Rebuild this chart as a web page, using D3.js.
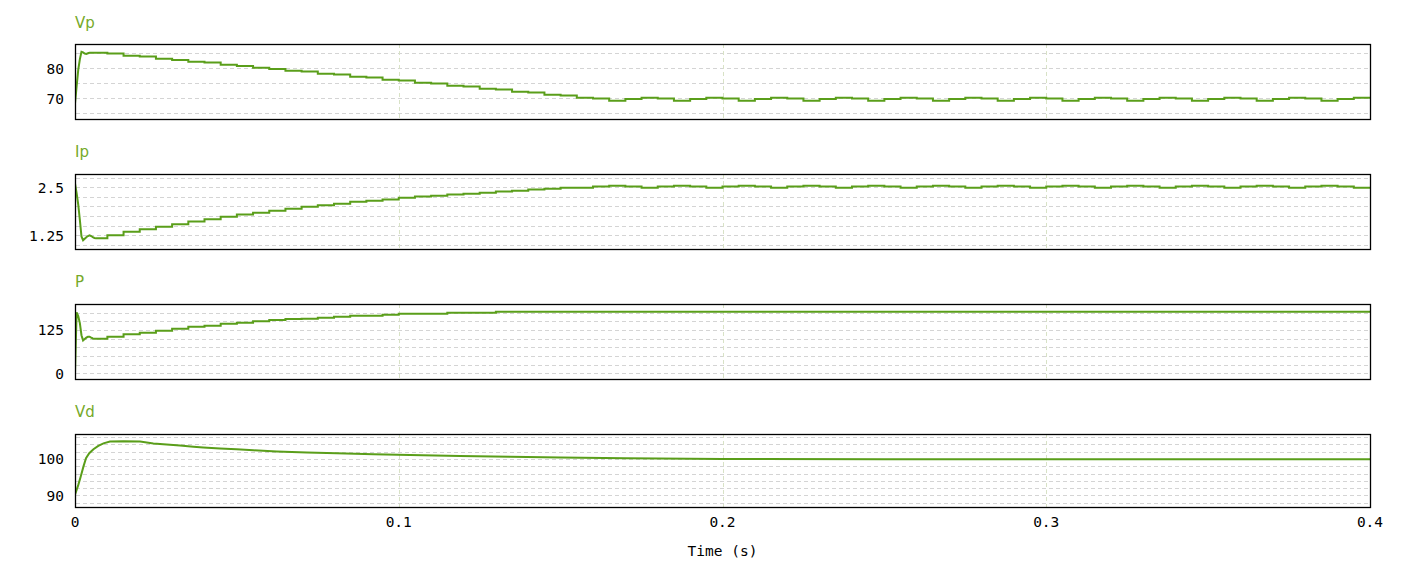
<!DOCTYPE html>
<html>
<head>
<meta charset="utf-8">
<script src="https://cdn.jsdelivr.net/npm/d3@7"></script>
<style>
  html, body { margin: 0; padding: 0; background: #fff; }
  svg { display: block; }
</style>
</head>
<body>
<svg id="chart" width="1413" height="573"></svg>
<script>
// ---------------- DATA ----------------
const panelTitles = ["Vp", "Ip", "P", "Vd"];
const xTickValues = [0, 0.1, 0.2, 0.3, 0.4];
const xTickLabels = ["0", "0.1", "0.2", "0.3", "0.4"];
const xAxisTitle = "Time (s)";

const vpTickValues = [70, 80];
const vpTickLabels = ["70", "80"];
const ipTickValues = [1.25, 2.5];
const ipTickLabels = ["1.25", "2.5"];
const pTickValues = [0, 125];
const pTickLabels = ["0", "125"];
const vdTickValues = [90, 100];
const vdTickLabels = ["90", "100"];

// start-up transient samples (s)
const tTransient = [0, 0.0005, 0.001, 0.0015, 0.002, 0.0025, 0.003, 0.0035, 0.004, 0.0045,
                    0.005, 0.0055, 0.006, 0.0065, 0.007, 0.0075, 0.008, 0.0085, 0.009, 0.0095];
const vpTransient = [68.3, 74.0, 79.5, 83.0, 85.5, 85.3, 84.9, 84.8, 85.0, 85.2,
                     85.2, 85.2, 85.2, 85.2, 85.2, 85.2, 85.2, 85.2, 85.2, 85.2];
const ipTransient = [2.60, 2.35, 2.05, 1.65, 1.22, 1.12, 1.16, 1.20, 1.23, 1.25,
                     1.23, 1.20, 1.18, 1.17, 1.17, 1.17, 1.17, 1.17, 1.17, 1.17];
const pTransient  = [0, 176, 165, 145, 110, 95, 99, 103, 105.5, 105.7,
                     103, 100.5, 100, 100, 100, 100, 100, 100, 100, 100];

// MPPT update instants (s) and the held value after each
const tSteps = [0.010,0.015,0.020,0.025,0.030,0.035,0.040,0.045,0.050,0.055,0.060,0.065,0.070,0.075,0.080,0.085,0.090,0.095,
  0.100,0.105,0.110,0.115,0.120,0.125,0.130,0.135,0.140,0.145,0.150,0.155,0.160,0.165,0.170,0.175,0.180,0.185,0.190,0.195,
  0.200,0.205,0.210,0.215,0.220,0.225,0.230,0.235,0.240,0.245,0.250,0.255,0.260,0.265,0.270,0.275,0.280,0.285,0.290,0.295,
  0.300,0.305,0.310,0.315,0.320,0.325,0.330,0.335,0.340,0.345,0.350,0.355,0.360,0.365,0.370,0.375,0.380,0.385,0.390,0.395];
const vpSteps = [84.9,84.2,83.9,83.2,82.8,82.2,81.9,81.2,80.8,80.2,79.8,79.2,78.9,78.2,77.9,77.2,76.9,76.2,75.9,75.2,
  74.9,74.2,73.9,73.2,72.9,72.2,71.9,71.2,70.9,70.2,69.9,69.2,
  69.8,70.2,69.9,69.2, 69.8,70.2,69.9,69.2, 69.8,70.2,69.9,69.2, 69.8,70.2,69.9,69.2,
  69.8,70.2,69.9,69.2, 69.8,70.2,69.9,69.2, 69.8,70.2,69.9,69.2, 69.8,70.2,69.9,69.2,
  69.8,70.2,69.9,69.2, 69.8,70.2,69.9,69.2, 69.8,70.2,69.9,69.2, 69.8,70.2];
const ipSteps = [1.25,1.34,1.41,1.47,1.54,1.61,1.67,1.73,1.79,1.84,1.89,1.94,1.995,2.03,2.07,2.125,2.15,2.18,2.23,2.26,
  2.28,2.31,2.33,2.36,2.39,2.41,2.44,2.46,2.49,2.49,2.52,2.54,
  2.52,2.49,2.52,2.54, 2.52,2.49,2.52,2.54, 2.52,2.49,2.52,2.54, 2.52,2.49,2.52,2.54,
  2.52,2.49,2.52,2.54, 2.52,2.49,2.52,2.54, 2.52,2.49,2.52,2.54, 2.52,2.49,2.52,2.54,
  2.52,2.49,2.52,2.54, 2.52,2.49,2.52,2.54, 2.52,2.49,2.52,2.54, 2.52,2.49];
const pSteps = [105.7,112.5,117.3,123,128.8,134.6,137.5,143.3,146.2,150,153.8,156.7,157.7,160.6,163.5,166.4,166.4,169.2,
  172.1,172.1,172.1,175,175,175,
  177.8,177.8,177.8,177.8,177.8,177.8,177.8,177.8,177.8,177.8,177.8,177.8,177.8,177.8,177.8,177.8,177.8,177.8,
  177.8,177.8,177.8,177.8,177.8,177.8,177.8,177.8,177.8,177.8,177.8,177.8,177.8,177.8,177.8,177.8,177.8,177.8,
  177.8,177.8,177.8,177.8,177.8,177.8,177.8,177.8,177.8,177.8,177.8,177.8,177.8,177.8,177.8,177.8,177.8,177.8];

// DC link voltage (continuous)
const vdTime = [0, 0.001, 0.00175, 0.0026, 0.0034, 0.0044, 0.0057, 0.0072, 0.0088, 0.0108, 0.015, 0.0201, 0.0242,
  0.0283, 0.0324, 0.0366, 0.0396, 0.0448, 0.0499, 0.0551, 0.0623, 0.0716, 0.0808, 0.0922, 0.1035, 0.1189, 0.1344,
  0.15, 0.17, 0.2, 0.25, 0.3, 0.35, 0.4];
const vdValues = [90.2, 92.8, 95.1, 97.9, 100.2, 101.6, 102.7, 103.6, 104.3, 104.8, 104.9, 104.8, 104.3,
  104.0, 103.7, 103.4, 103.2, 102.9, 102.7, 102.4, 102.1, 101.8, 101.6, 101.3, 101.1, 100.8, 100.6,
  100.4, 100.2, 100.0, 99.95, 99.95, 99.95, 99.95];

// ---------------- LAYOUT ----------------
const W = 1413, H = 573;
const xLeft = 75, xRight = 1370;
const lineColor = "#5a9e1a";
const titleColor = "#76a92a";
const monoFont = "'DejaVu Sans Mono', monospace";

const svg = d3.select("#chart");
const x = d3.scaleLinear().domain([0, 0.4]).range([xLeft, xRight]);

function stepPoints(tT, vT, tS, vS) {
  const pts = tT.map((t, i) => [t, vT[i]]);
  let prev = vT[vT.length - 1];
  tS.forEach((t, i) => { pts.push([t, prev]); pts.push([t, vS[i]]); prev = vS[i]; });
  pts.push([0.4, prev]);
  return pts;
}

const panels = [
  { title: panelTitles[0], top: 44, bottom: 119, domain: [63.1, 88.1], grid: [65, 70, 75, 80, 85],
    ticks: vpTickValues, labels: vpTickLabels, titleY: 28,
    points: stepPoints(tTransient, vpTransient, tSteps, vpSteps) },
  { title: panelTitles[1], top: 174, bottom: 249, domain: [0.893, 2.846], grid: [1.0, 1.25, 1.5, 1.75, 2.0, 2.25, 2.5, 2.75],
    ticks: ipTickValues, labels: ipTickLabels, titleY: 157,
    points: stepPoints(tTransient, ipTransient, tSteps, ipSteps) },
  { title: panelTitles[2], top: 304, bottom: 379, domain: [-16.5, 200.1], grid: [0, 25, 50, 75, 100, 125, 150, 175],
    ticks: pTickValues, labels: pTickLabels, titleY: 287,
    points: stepPoints(tTransient, pTransient, tSteps, pSteps) },
  { title: panelTitles[3], top: 434, bottom: 507, domain: [86.78, 106.89], grid: [88, 90, 92, 94, 96, 98, 100, 102, 104, 106],
    ticks: vdTickValues, labels: vdTickLabels, titleY: 417,
    points: vdTime.map((t, i) => [t, vdValues[i]]) }
];

const defs = svg.append("defs");

panels.forEach((p, idx) => {
  const y = d3.scaleLinear().domain(p.domain).range([p.bottom, p.top]);
  const g = svg.append("g");

  g.append("text")
    .attr("x", xLeft).attr("y", p.titleY)
    .attr("font-family", "'DejaVu Sans', Verdana, sans-serif")
    .attr("font-size", 15)
    .attr("fill", titleColor)
    .text(p.title);

  g.selectAll(".hg").data(p.grid).enter().append("line")
    .attr("x1", xLeft + 1).attr("x2", xRight)
    .attr("y1", d => Math.round(y(d)) + 0.5).attr("y2", d => Math.round(y(d)) + 0.5)
    .attr("stroke", "#d4d4d4").attr("stroke-width", 1).attr("stroke-dasharray", "4,3");

  g.selectAll(".vg").data(xTickValues.slice(1, -1)).enter().append("line")
    .attr("x1", d => Math.round(x(d)) + 0.5).attr("x2", d => Math.round(x(d)) + 0.5)
    .attr("y1", p.top).attr("y2", p.bottom)
    .attr("stroke", "#d8e2c6").attr("stroke-width", 1).attr("stroke-dasharray", "4,3");

  g.selectAll(".yt").data(p.ticks).enter().append("text")
    .attr("x", 64).attr("y", d => y(d))
    .attr("dy", "0.36em")
    .attr("text-anchor", "end")
    .attr("font-family", monoFont).attr("font-size", 14.5)
    .attr("fill", "#000")
    .text((d, i) => p.labels[i]);

  const cid = "clip" + idx;
  defs.append("clipPath").attr("id", cid).append("rect")
    .attr("x", xLeft).attr("y", p.top).attr("width", xRight - xLeft).attr("height", p.bottom - p.top);

  const line = d3.line().x(d => x(d[0])).y(d => y(d[1])).curve(d3.curveLinear);
  g.append("path")
    .attr("clip-path", `url(#${cid})`)
    .attr("d", line(p.points))
    .attr("fill", "none")
    .attr("stroke", lineColor)
    .attr("stroke-width", 2)
    .attr("stroke-linejoin", "miter");

  g.append("rect")
    .attr("x", xLeft + 0.5).attr("y", p.top + 0.5)
    .attr("width", xRight - xLeft).attr("height", p.bottom - p.top)
    .attr("fill", "none").attr("stroke", "#000").attr("stroke-width", 1.3);
});

svg.selectAll(".xt").data(xTickValues).enter().append("text")
  .attr("x", d => x(d)).attr("y", 527)
  .attr("text-anchor", "middle")
  .attr("font-family", monoFont).attr("font-size", 14.5)
  .attr("fill", "#000")
  .text((d, i) => xTickLabels[i]);

svg.append("text")
  .attr("x", (xLeft + xRight) / 2).attr("y", 556)
  .attr("text-anchor", "middle")
  .attr("font-family", monoFont).attr("font-size", 14.5)
  .attr("fill", "#000")
  .text(xAxisTitle);
</script>
</body>
</html>
